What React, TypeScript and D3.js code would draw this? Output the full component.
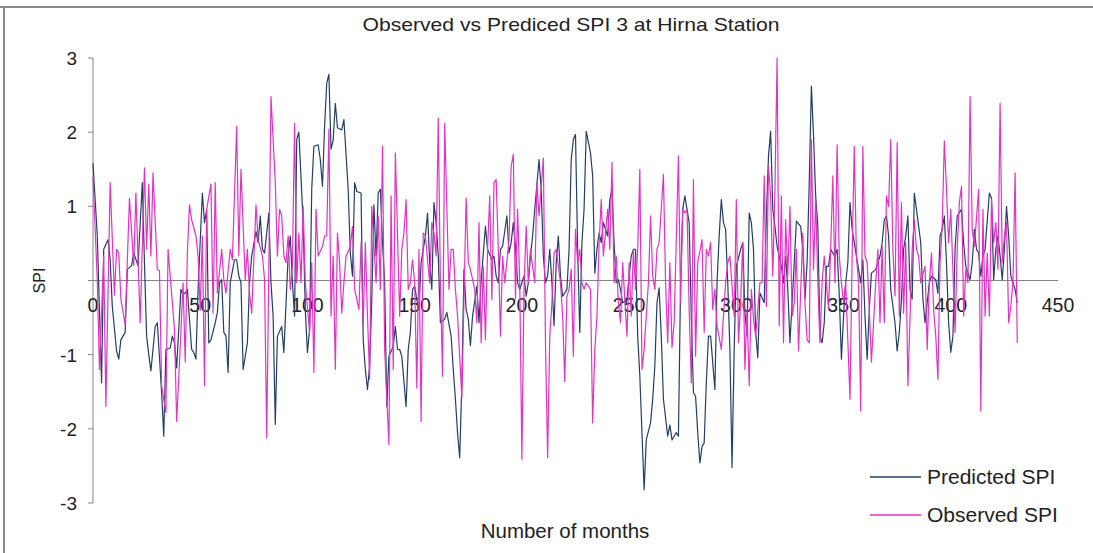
import React from "react";
import * as d3 from "d3";

// Predicted SPI 3 (month, value)
const predictedSPI: [number, number][] = [
[0,1.58],[2,0.6],[4,-1.38],[5,0.42],[7,0.55],[8,0.28],[9,-0.35],[11,-0.95],[12,-1.06],[13,-0.8],[15,-0.7],[16,0.15],[18,0.2],[19,0.37],[21,0.2],[23,1.32],[24,0.24],[25,-0.75],[26,-1.0],[27,-1.22],[29,-0.62],[30,-0.57],[32,-1.51],[33,-2.1],[34,-0.93],[36,-0.91],[37,-0.75],[38,-0.84],[39,-1.18],[41,-0.12],[42,-0.19],[43,-0.17],[44,-0.12],[46,-0.93],[47,-0.97],[48,-1.06],[49,-0.12],[51,1.18],[52,0.78],[53,0.96],[54,-0.84],[55,-0.8],[57,-0.57],[58,-0.43],[59,-0.03],[60,0.01],[61,-0.7],[62,-0.75],[63,-1.24],[64,-0.03],[66,0.28],[67,0.28],[68,0.06],[69,-0.03],[70,-1.2],[72,-0.84],[73,-0.03],[74,0.33],[76,0.66],[77,0.51],[78,0.87],[79,0.42],[80,0.37],[82,0.91],[83,-0.03],[84,-0.48],[85,-1.94],[86,-0.75],[88,-0.62],[89,-0.97],[91,0.33],[92,0.6],[93,-0.03],[94,-0.48],[95,1.9],[96,2.0],[98,0.78],[99,-0.4],[100,-0.97],[101,-0.66],[102,1.23],[103,1.81],[105,1.83],[106,1.63],[107,1.27],[108,2.08],[109,2.66],[110,2.78],[111,1.77],[112,1.89],[113,2.39],[114,2.06],[116,2.03],[117,2.17],[119,1.23],[120,0.37],[121,0.06],[122,1.32],[123,1.2],[125,1.18],[126,-0.8],[127,-1.2],[128,-1.47],[129,-1.15],[130,-0.26],[131,1.02],[132,0.33],[133,1.18],[134,1.23],[135,0.51],[136,-0.03],[137,-1.7],[138,-1.02],[140,-0.89],[141,-0.62],[142,-0.93],[143,-0.93],[144,-1.02],[146,-1.7],[147,-0.93],[148,-0.7],[149,-0.12],[150,-0.08],[151,-0.26],[152,-0.39],[153,0.24],[155,0.6],[156,0.91],[157,0.24],[158,-0.12],[159,1.05],[160,0.78],[161,0.33],[162,-0.57],[164,-0.52],[165,-0.43],[167,-0.75],[168,-1.2],[169,-1.6],[170,-2.06],[171,-2.39],[172,-1.38],[173,0.15],[174,-0.39],[175,-0.52],[176,-0.88],[177,-0.48],[179,-0.08],[180,-0.57],[181,0.0],[183,0.73],[184,0.42],[186,0.28],[187,0.33],[188,0.06],[189,-0.03],[190,0.42],[191,0.46],[193,0.87],[194,0.37],[195,0.51],[196,0.78],[197,0.46],[198,-0.03],[199,-0.12],[201,0.06],[202,-0.21],[203,-0.03],[204,0.33],[205,0.6],[206,0.96],[208,1.63],[209,1.23],[210,0.33],[211,-0.03],[212,0.06],[213,0.42],[214,-0.03],[215,-0.61],[216,0.24],[217,0.6],[218,0.06],[219,-0.21],[220,-0.17],[221,-0.12],[222,0.42],[223,1.63],[224,1.9],[225,1.97],[226,0.42],[227,-0.7],[228,0.51],[229,0.96],[230,2.01],[232,1.72],[233,1.41],[234,0.1],[235,0.42],[236,0.64],[237,0.51],[238,0.78],[240,0.6],[241,1.09],[242,1.23],[243,0.51],[244,-0.03],[245,0.01],[246,-0.12],[247,-0.3],[249,-0.26],[250,0.06],[251,0.33],[252,0.42],[253,0.42],[254,-0.75],[255,-1.29],[256,-2.06],[257,-2.82],[258,-2.15],[260,-1.92],[261,-1.6],[262,-1.15],[263,-0.3],[264,-0.1],[265,-0.75],[266,-1.6],[268,-2.1],[269,-1.95],[270,-2.15],[272,-2.05],[273,-2.1],[274,-0.03],[275,0.96],[276,1.14],[278,0.78],[279,-0.48],[280,-1.51],[281,-1.56],[282,-2.05],[283,-2.46],[284,-2.24],[285,-2.19],[286,-1.38],[287,-0.75],[288,-0.75],[290,-1.47],[291,-0.03],[292,0.6],[293,1.09],[294,0.78],[295,0.69],[296,-0.03],[297,-0.93],[298,-2.52],[299,-0.93],[300,0.19],[302,0.42],[303,0.51],[304,-0.43],[305,-0.75],[306,0.91],[307,0.78],[308,0.42],[309,-0.7],[310,-1.04],[311,-0.17],[313,-0.3],[314,0.87],[315,1.68],[316,2.01],[317,0.96],[318,0.73],[319,0.46],[321,0.19],[322,-0.03],[323,0.33],[324,-0.12],[325,-0.84],[326,-0.3],[327,0.24],[328,0.8],[330,0.73],[331,0.42],[332,-0.25],[333,0.24],[334,1.32],[335,2.62],[336,1.95],[337,1.14],[338,0.73],[339,-0.75],[340,-0.84],[341,-0.57],[342,0.19],[343,0.19],[344,0.42],[345,0.37],[346,0.33],[347,0.42],[348,-0.2],[349,-1.06],[350,-0.48],[351,-0.03],[352,0.24],[353,1.05],[354,0.69],[356,0.33],[357,0.15],[358,-0.03],[359,0.28],[360,-0.48],[361,-1.06],[362,-0.39],[363,0.1],[365,0.15],[366,0.24],[367,0.33],[368,0.51],[369,0.82],[370,0.87],[371,0.6],[372,-0.12],[374,-0.57],[375,-0.95],[376,-0.7],[377,-0.26],[378,0.42],[379,0.6],[380,0.87],[381,-0.12],[382,-0.25],[383,1.18],[384,0.96],[386,0.51],[387,-0.25],[388,-0.57],[389,-0.3],[390,-0.03],[391,0.06],[393,0.01],[394,-0.17],[395,0.6],[396,0.69],[397,0.87],[398,0.24],[399,-0.57],[400,-0.97],[401,-0.75],[402,0.42],[403,0.87],[405,0.96],[406,0.5],[407,0.19],[409,0.01],[410,0.24],[411,0.69],[412,0.42],[413,0.37],[414,0.06],[415,0.33],[416,0.42],[418,1.18],[419,1.11],[420,0.01],[421,0.42],[422,0.6],[423,0.33],[424,0.01],[425,0.42],[426,1.0],[427,0.6],[428,0.06],[430,-0.12],[431,-0.3]
];

// Observed SPI 3 (month, value)
const observedSPI: [number, number][] = [
[0,1.4],[2,0.0],[3,-1.2],[5,0.33],[6,-1.7],[8,1.32],[10,-0.2],[11,0.42],[12,0.37],[13,-0.25],[15,-0.6],[17,1.11],[19,0.2],[20,1.18],[22,-0.57],[24,1.52],[25,0.42],[26,1.3],[27,0.33],[28,1.45],[30,0.15],[31,0.13],[32,-1.42],[34,-1.78],[35,0.42],[37,-0.3],[38,-0.66],[39,-1.9],[41,-0.7],[42,-0.03],[43,-1.1],[44,0.37],[45,1.02],[46,0.82],[48,0.6],[49,0.33],[50,-0.4],[51,0.6],[52,-1.42],[53,0.96],[55,1.3],[56,-0.44],[57,1.32],[58,-0.17],[60,0.42],[61,0.01],[62,-0.17],[64,0.42],[65,0.28],[67,2.08],[68,0.33],[69,1.5],[71,0.0],[72,0.42],[73,-0.17],[74,-0.44],[76,1.02],[77,0.55],[79,0.33],[80,0.01],[81,-2.12],[83,2.48],[85,1.32],[86,0.33],[87,0.96],[88,0.87],[89,0.33],[90,0.24],[91,0.6],[92,-0.12],[93,0.19],[94,2.12],[95,-0.03],[96,0.64],[97,-0.03],[98,1.0],[99,-0.03],[101,-0.7],[102,0.24],[103,-1.24],[104,0.96],[105,0.33],[107,0.46],[108,0.6],[109,0.6],[110,2.04],[111,-0.48],[112,0.33],[113,-1.2],[114,0.64],[115,0.24],[116,-0.44],[117,-0.03],[118,0.33],[120,0.46],[121,0.73],[122,-0.12],[124,-0.39],[125,0.51],[126,-0.61],[127,0.51],[128,-0.48],[129,-1.33],[130,1.0],[132,-0.03],[133,0.87],[134,-0.12],[135,1.81],[136,-0.93],[138,-2.21],[139,1.14],[140,-1.2],[141,1.72],[143,-0.48],[144,0.42],[145,0.64],[146,1.09],[147,-0.12],[148,-0.03],[149,0.28],[150,-0.03],[151,-1.45],[152,0.42],[153,-1.9],[154,0.64],[155,0.6],[157,-0.03],[158,0.78],[159,0.64],[160,0.33],[161,2.19],[162,-0.03],[163,-1.29],[164,2.12],[166,-0.12],[167,0.42],[168,0.42],[169,-0.12],[170,-0.48],[172,-1.58],[174,1.11],[175,0.24],[176,0.15],[178,-0.12],[179,-0.57],[180,0.78],[181,-0.84],[182,0.19],[183,-0.8],[184,0.42],[185,1.14],[186,-0.26],[187,1.32],[188,1.36],[189,0.42],[190,-0.75],[191,0.33],[192,-0.03],[194,0.55],[195,1.54],[196,1.7],[197,-0.25],[198,0.96],[199,-0.03],[200,-2.41],[201,-0.08],[202,0.73],[203,-0.03],[204,0.42],[205,0.19],[206,-0.03],[207,1.32],[208,0.87],[210,1.65],[211,-0.84],[212,-2.39],[213,-0.75],[214,-0.3],[215,0.37],[216,0.42],[218,-0.03],[219,-0.48],[220,-1.36],[221,-0.21],[222,-0.12],[223,0.15],[224,-1.02],[225,0.69],[226,0.24],[227,0.42],[228,-0.03],[229,-0.12],[230,-0.03],[232,-0.12],[233,-1.92],[234,-0.93],[235,-0.48],[236,0.51],[237,1.09],[238,0.33],[240,0.96],[241,0.42],[242,1.59],[243,-0.03],[244,0.33],[245,-0.3],[246,-0.57],[247,0.24],[249,-0.75],[250,0.24],[251,-0.48],[252,0.42],[253,-0.12],[254,0.42],[255,1.5],[256,-1.2],[257,-0.93],[259,-0.03],[260,0.87],[261,0.06],[262,-0.12],[263,0.42],[264,0.51],[266,1.43],[267,-0.03],[268,-0.84],[269,0.24],[270,-0.9],[271,-0.57],[273,1.68],[274,-0.3],[275,0.96],[276,0.91],[277,0.96],[278,-0.39],[279,-1.38],[280,1.36],[281,-1.02],[282,0.24],[284,0.55],[285,-0.7],[286,0.42],[287,0.33],[288,0.51],[289,-0.39],[290,-0.12],[291,-0.61],[293,-0.93],[294,-0.48],[295,-0.03],[296,0.24],[297,0.33],[299,-0.48],[300,1.09],[301,-0.84],[302,-0.3],[303,0.51],[304,-1.2],[305,-0.39],[306,-1.42],[307,-0.12],[308,-0.52],[309,-0.75],[311,-0.03],[312,-0.03],[313,1.41],[314,-0.35],[315,1.54],[316,1.14],[317,0.06],[318,1.23],[319,3.0],[320,-0.61],[321,1.14],[322,-0.84],[323,0.82],[324,0.06],[325,1.0],[326,-0.48],[327,-0.3],[328,0.42],[329,-0.95],[331,0.64],[332,-0.3],[333,-0.8],[334,-0.84],[335,1.9],[336,0.15],[337,1.09],[338,-0.03],[339,-0.84],[340,-0.03],[341,0.33],[343,-0.39],[344,0.42],[345,1.41],[346,-0.03],[347,1.83],[348,0.33],[349,-0.03],[350,-0.3],[351,-0.03],[353,-1.6],[354,0.33],[355,1.81],[356,0.33],[357,-0.03],[358,-1.76],[359,1.81],[360,0.33],[361,0.24],[362,-0.39],[363,-1.1],[365,-0.03],[366,0.42],[367,-0.57],[368,0.46],[369,-0.57],[370,1.14],[371,1.0],[372,1.9],[373,0.42],[374,-0.21],[375,1.86],[376,-0.48],[377,1.05],[378,-0.44],[379,0.51],[380,-1.42],[382,0.42],[383,0.82],[384,0.42],[385,0.33],[386,-0.03],[388,0.19],[389,-0.93],[390,-0.03],[391,0.37],[392,-0.39],[393,-0.75],[394,-1.33],[395,0.24],[396,0.73],[397,1.88],[398,1.23],[399,0.51],[400,0.96],[402,-0.7],[403,0.42],[404,1.05],[405,1.27],[406,-0.48],[407,0.15],[408,-0.03],[409,2.48],[410,0.69],[411,0.46],[413,1.23],[414,-1.76],[415,0.96],[416,-0.48],[417,0.37],[418,-0.48],[419,1.09],[420,0.51],[421,0.78],[422,0.15],[423,2.39],[424,0.24],[425,0.6],[426,0.78],[427,-0.57],[428,-0.35],[429,-0.03],[430,1.45],[431,-0.84]
];

const xTicks = [0, 50, 100, 150, 200, 250, 300, 350, 400, 450];
const yTicks = [-3, -2, -1, 0, 1, 2, 3];
const yTickLabels = ["-3", "-2", "-1", "", "1", "2", "3"];
const seriesNames = ["Predicted SPI", "Observed SPI"];
const seriesColors = ["#243f66", "#e034c6"];

const W = 1093;
const H = 553;
const FONT = "'Liberation Sans', Arial, sans-serif";

export default function App() {
  const x = d3.scaleLinear().domain([0, 450]).range([93, 1058]);
  const y = d3.scaleLinear().domain([-3, 3]).range([503, 58]);
  const line = d3
    .line<[number, number]>()
    .x((d) => x(d[0]))
    .y((d) => y(d[1]));
  const series = [predictedSPI, observedSPI];

  return (
    <div style={{ position: "absolute", left: 0, top: 0 }}>
      <svg width={W} height={H} style={{ display: "block", background: "#fff" }}>
        <rect x={0} y={0} width={W} height={H} fill="#fff" />
        <line x1={0} x2={W} y1={7} y2={7} stroke="#8a8a8a" strokeWidth={2} />
        <line x1={4} x2={4} y1={6} y2={H} stroke="#8a8a8a" strokeWidth={2} />

        <text
          x={571}
          y={31}
          textAnchor="middle"
          fontFamily="'Liberation Sans Narrow', 'Arial Narrow', 'Liberation Sans', sans-serif"
          fontSize={19}
          fill="#222"
          textLength={417}
          lengthAdjust="spacingAndGlyphs"
        >
          Observed  vs  Prediced SPI 3 at Hirna Station
        </text>

        {/* y axis */}
        <line x1={x(0)} x2={x(0)} y1={y(3)} y2={y(-3)} stroke="#868686" strokeWidth={1} />
        {yTicks.map((t, i) => (
          <g key={"yt" + t}>
            <line x1={x(0) - 5} x2={x(0)} y1={y(t)} y2={y(t)} stroke="#868686" />
            <text
              x={77}
              y={y(t) + 7}
              textAnchor="end"
              fontFamily={FONT}
              fontSize={19}
              fill="#222"
            >
              {yTickLabels[i]}
            </text>
          </g>
        ))}

        {/* x axis at zero */}
        <line x1={x(0)} x2={x(450)} y1={y(0)} y2={y(0)} stroke="#868686" strokeWidth={1} />
        {xTicks.map((t) => (
          <text
            key={"xt" + t}
            x={x(t)}
            y={y(0) + 31}
            textAnchor="middle"
            fontFamily={FONT}
            fontSize={19.5}
            fill="#222"
          >
            {t}
          </text>
        ))}

        {series.map((s, i) => (
          <path
            key={"s" + i}
            d={line(s) || ""}
            fill="none"
            stroke={seriesColors[i]}
            strokeWidth={1.2}
            strokeLinejoin="round"
          />
        ))}

        <text
          x={565}
          y={538}
          textAnchor="middle"
          fontFamily={FONT}
          fontSize={20.5}
          fill="#222"
        >
          Number  of  months
        </text>
        <text
          transform={`translate(45,${y(0)}) rotate(-90)`}
          textAnchor="middle"
          fontFamily={FONT}
          fontSize={16}
          fill="#222"
        >
          SPI
        </text>

        {seriesNames.map((n, i) => (
          <g key={"lg" + i}>
            <line
              x1={870}
              x2={921}
              y1={477 + i * 38}
              y2={477 + i * 38}
              stroke={seriesColors[i]}
              strokeWidth={1.5}
            />
            <text x={927} y={484 + i * 38} fontFamily={FONT} fontSize={21} fill="#222">
              {n}
            </text>
          </g>
        ))}
      </svg>
    </div>
  );
}
